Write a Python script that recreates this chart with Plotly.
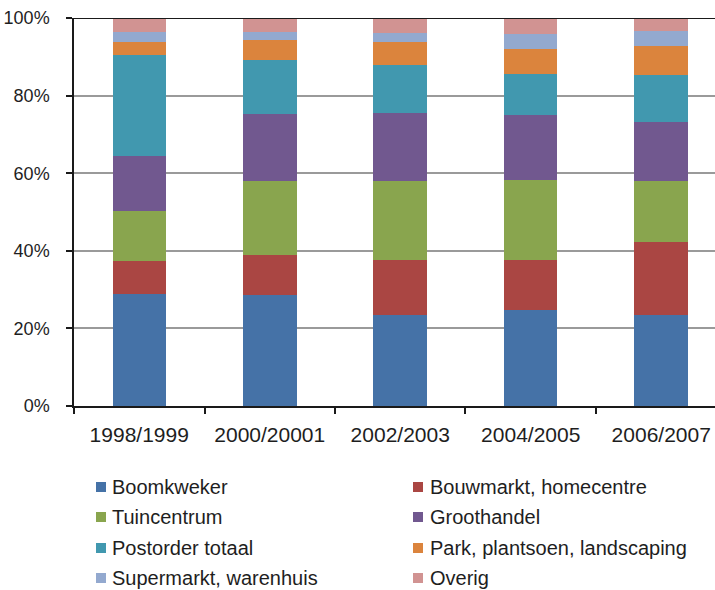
import plotly.graph_objects as go

# Sales channel shares per period (percent of total)
periods = ["1998/1999", "2000/20001", "2002/2003", "2004/2005", "2006/2007"]

series_names = [
    "Boomkweker",
    "Bouwmarkt, homecentre",
    "Tuincentrum",
    "Groothandel",
    "Postorder totaal",
    "Park, plantsoen, landscaping",
    "Supermarkt, warenhuis",
    "Overig",
]

boomkweker = [28.9, 28.5, 23.5, 24.8, 23.5]
bouwmarkt = [8.4, 10.4, 14.2, 12.8, 18.8]
tuincentrum = [12.9, 19.1, 20.4, 20.6, 15.7]
groothandel = [14.3, 17.3, 17.3, 16.8, 15.3]
postorder = [26.0, 13.8, 12.5, 10.6, 12.0]
park = [3.4, 5.2, 5.8, 6.4, 7.6]
supermarkt = [2.6, 2.1, 2.4, 3.9, 3.8]
overig = [3.5, 3.6, 3.9, 4.1, 3.3]

series_values = [boomkweker, bouwmarkt, tuincentrum, groothandel,
                 postorder, park, supermarkt, overig]

colors = ["#4572A7", "#AA4643", "#89A54E", "#71588F",
          "#4198AF", "#DB843D", "#93A9CF", "#D19392"]

y_ticks = [0, 20, 40, 60, 80, 100]
y_tick_labels = ["0%", "20%", "40%", "60%", "80%", "100%"]

FONT = "Liberation Sans, Arial, sans-serif"
TEXT = "#1e1e1e"

W, H = 715, 590
L, R, T, B = 74, 0, 18, 184

fig = go.Figure()
for name, vals, col in zip(series_names, series_values, colors):
    fig.add_trace(go.Bar(
        x=periods, y=vals, name=name,
        marker=dict(color=col, line=dict(width=0)),
        width=0.41, showlegend=False,
    ))

# top border line at 100%
fig.add_shape(type="line", xref="paper", yref="y", x0=0, x1=1, y0=100, y1=100,
              line=dict(color="#1a1a1a", width=2), layer="above")

# legend: two columns, four rows
plot_w = W - L - R
plot_h = H - T - B
sq_x = [96, 413]
txt_x = [110, 428]
row_y = [487, 517, 548, 578]
sq = 10
for i, (name, col) in enumerate(zip(series_names, colors)):
    c, r = i % 2, i // 2
    cy = row_y[r]
    x0 = (sq_x[c] - L) / plot_w
    x1 = (sq_x[c] + sq - L) / plot_w
    y0 = (H - B - (cy + sq / 2)) / plot_h
    y1 = (H - B - (cy - sq / 2)) / plot_h
    fig.add_shape(type="rect", xref="paper", yref="paper",
                  x0=x0, x1=x1, y0=y0, y1=y1,
                  fillcolor=col, line=dict(width=0))
    fig.add_annotation(xref="paper", yref="paper",
                       x=(txt_x[c] - L) / plot_w, y=(H - B - cy) / plot_h,
                       text=name, showarrow=False,
                       xanchor="left", yanchor="middle",
                       font=dict(family=FONT, size=20, color=TEXT))

fig.update_layout(
    width=W, height=H,
    margin=dict(l=L, r=R, t=T, b=B, pad=0),
    paper_bgcolor="white", plot_bgcolor="white",
    barmode="stack", bargap=0.59,
    font=dict(family=FONT, color=TEXT),
    xaxis=dict(
        type="category", range=[-0.5, 4.412], automargin=False,
        tickangle=0,
        tickson="boundaries", ticks="outside", ticklen=6, tickwidth=1.5,
        tickcolor="#1a1a1a",
        showline=True, linecolor="#1a1a1a", linewidth=1.5,
        showgrid=False, zeroline=False,
        tickfont=dict(family=FONT, size=21, color=TEXT),
        ticklabelstandoff=9,
    ),
    yaxis=dict(
        range=[0, 100], tickvals=y_ticks, ticktext=y_tick_labels,
        automargin=False,
        ticks="outside", ticklen=6, tickwidth=1.5, tickcolor="#1a1a1a",
        showline=True, linecolor="#1a1a1a", linewidth=1.5,
        showgrid=True, gridcolor="#9a9a9a", gridwidth=1.5,
        zeroline=False,
        tickfont=dict(family=FONT, size=18, color=TEXT),
        ticklabelstandoff=13,
    ),
)

fig.write_html("out.html")
